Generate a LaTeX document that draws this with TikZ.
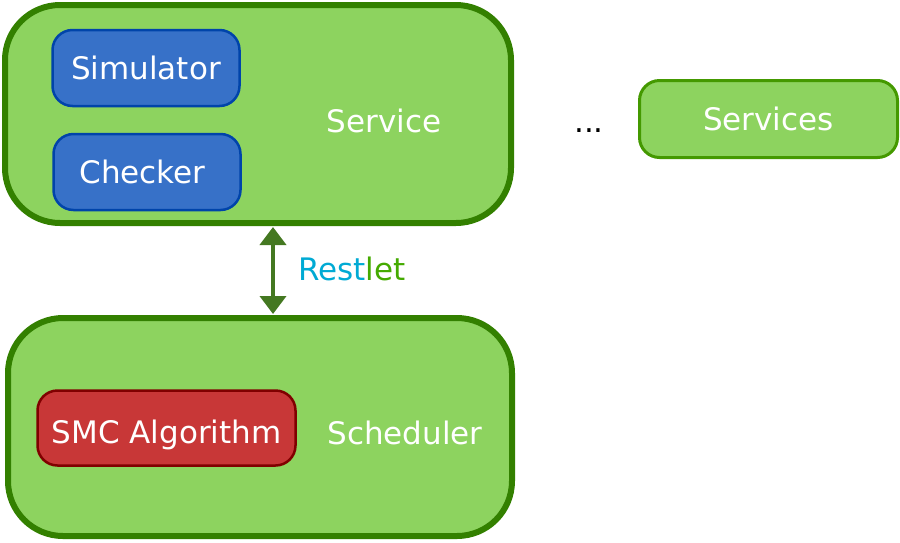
\documentclass[tikz,border=0pt]{standalone}
\usepackage{fontspec}
\setmainfont{DejaVu Sans}
\usetikzlibrary{arrows.meta}
\definecolor{gfill}{HTML}{8DD35F}
\definecolor{gdark}{HTML}{338000}
\definecolor{gmid}{HTML}{449900}
\definecolor{bfill}{HTML}{3771C8}
\definecolor{bdark}{HTML}{0044AA}
\definecolor{rfill}{HTML}{C83737}
\definecolor{rdark}{HTML}{800000}
\definecolor{arrowc}{HTML}{447821}
\definecolor{restc}{HTML}{00AAD4}
\definecolor{letc}{HTML}{44AA00}
\tikzset{
  txt/.style={font=\fontsize{31}{36}\selectfont},
  bigbox/.style={draw=gdark, fill=gfill, line width=6pt, rounded corners=55pt},
  inbox/.style={txt, line width=2.5pt, rounded corners=20pt, inner sep=0pt, text=white, text depth=0pt},
  bluebox/.style={inbox, draw=bdark, fill=bfill},
  redbox/.style={inbox, draw=rdark, fill=rfill},
  lbl/.style={txt, text=white, inner sep=0pt},
}
\begin{document}
\begin{tikzpicture}[x=1pt,y=-1pt]
\useasboundingbox (0,0) rectangle (900,542);
\draw[bigbox] (5,5) rectangle (511,223);
\draw[bigbox] (8,318) rectangle (512,536);
\node[bluebox, minimum width=187pt, minimum height=76pt] (sim) at (146,68) {Simulator};
\node[bluebox, minimum width=187pt, minimum height=76pt] (chk) at (147,172) {\hspace*{-9pt}Checker};
\node[redbox, minimum width=258pt, minimum height=75pt, text height=31pt] (smc) at (166.5,428) {SMC Algorithm};
\node[lbl] (svc) at (384,121) {Service};
\node[lbl] (sch) at (405,433) {Scheduler};
\node[txt, inner sep=0pt, anchor=base] (dots) at (589,132) {...};
\node[txt, draw=gmid, fill=gfill, line width=3pt, rounded corners=20pt, minimum width=258pt, minimum height=77pt, inner sep=0pt, text=white] (svcs) at (768.5,119) {Services};
\coordinate (atop) at (273,227);
\coordinate (abot) at (273,314);
\draw[arrowc, line width=4pt, {Triangle[width=26pt,length=18pt]}-{Triangle[width=26pt,length=18pt]}] (atop) -- (abot);
\node[txt, inner sep=0pt, anchor=west] (rest) at (298,269) {\textcolor{restc}{Rest}\textcolor{letc}{let}};
\end{tikzpicture}
\end{document}
